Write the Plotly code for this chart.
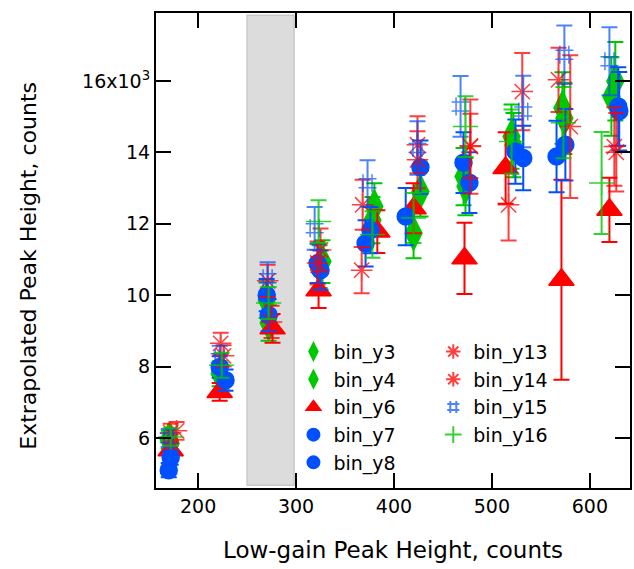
import plotly.graph_objects as go

# ---- data ----
series_names = ["bin_y3", "bin_y4", "bin_y6", "bin_y7", "bin_y8",
                "bin_y13", "bin_y14", "bin_y15", "bin_y16"]

x_y3 = [170, 222, 270, 327, 380, 427, 471, 520, 572, 626]
y_y3 = [5950, 7800, 9860, 10940, 12480, 12900, 13320, 14440, 15240, 15990]
e_y3 = [250, 350, 500, 600, 650, 700, 800, 900, 1000, 1100]

x_y4 = [172, 224, 272, 324, 378, 420, 473, 522, 574, 622]
y_y4 = [5850, 7700, 9220, 10800, 12100, 11730, 13040, 14200, 14950, 15560]
e_y4 = [250, 350, 500, 600, 650, 700, 800, 900, 1000, 1100]

x_y6 = [172, 222, 276, 323, 383, 420, 472, 514, 571, 620]
y_y6 = [5655, 7290, 9070, 10140, 11780, 12430, 11030, 13560, 10430, 12390]
e_y6 = [200, 250, 400, 500, 600, 700, 1000, 1000, 2800, 900]

x_y7 = [172, 222, 270, 322, 376, 412, 471, 524, 575, 629]
y_y7 = [5450, 7990, 10000, 10890, 11820, 12200, 13710, 14020, 14210, 15280]
e_y7 = [200, 300, 450, 550, 650, 800, 850, 900, 1000, 1100]

x_y8 = [170, 228, 272, 325, 371, 427, 477, 532, 566, 630]
y_y8 = [5100, 7620, 9440, 10700, 11450, 13580, 13150, 13840, 13880, 15150]
e_y8 = [200, 300, 450, 550, 650, 750, 850, 900, 1000, 1100]

x_y13 = [172, 223, 271, 325, 368, 424, 478, 531, 568, 625]
y_y13 = [6150, 8650, 10400, 11265, 12530, 14210, 14160, 15700, 16030, 14160]
e_y13 = [250, 300, 450, 600, 700, 800, 1320, 1080, 900, 1100]

x_y14 = [178, 226, 275, 322, 367, 424, 478, 517, 580, 627]
y_y14 = [6200, 8300, 9250, 10900, 10700, 13790, 14180, 12530, 14720, 14000]
e_y14 = [250, 300, 450, 600, 650, 800, 900, 1000, 2000, 1100]

x_y15 = [170, 222, 271, 319, 373, 424, 468, 532, 574, 620]
y_y15 = [6000, 8235, 10470, 11870, 13130, 14120, 15285, 15140, 16730, 16550]
e_y15 = [250, 350, 450, 600, 650, 750, 850, 1000, 820, 950]

x_y16 = [172, 224, 272, 323, 378, 420, 473, 520, 573, 612]
y_y16 = [6030, 8040, 9780, 12060, 11700, 12160, 14720, 14300, 14830, 13140]
e_y16 = [250, 350, 450, 600, 650, 700, 850, 900, 1000, 1430]

x_ticks = [200, 300, 400, 500, 600]
y_ticks = [6000, 8000, 10000, 12000, 14000, 16000]
y_tick_text = ["6", "8", "10", "12", "14", "16x10<sup>3</sup>"]

shade_x = [250, 298]

GREEN = "#00c800"
RED = "#ff0000"
BLUE = "#0050ff"

FONT = "DejaVu Sans"

styles = {
    "bin_y3": (GREEN, "diamond-tall", 24, 1.0, "legend", 1),
    "bin_y4": (GREEN, "diamond-tall", 24, 1.0, "legend", 2),
    "bin_y6": (RED, "triangle-up", 22, 1.0, "legend", 3),
    "bin_y7": (BLUE, "circle", 17, 1.0, "legend", 4),
    "bin_y8": (BLUE, "circle", 17, 1.0, "legend", 5),
    "bin_y13": (RED, "asterisk-open", 18, 0.75, "legend2", 6),
    "bin_y14": (RED, "asterisk-open", 18, 0.75, "legend2", 7),
    "bin_y15": (BLUE, "hash-open", 18, 0.7, "legend2", 8),
    "bin_y16": (GREEN, "cross-thin-open", 18, 0.8, "legend2", 9),
}

data = {
    "bin_y3": (x_y3, y_y3, e_y3),
    "bin_y4": (x_y4, y_y4, e_y4),
    "bin_y6": (x_y6, y_y6, e_y6),
    "bin_y7": (x_y7, y_y7, e_y7),
    "bin_y8": (x_y8, y_y8, e_y8),
    "bin_y13": (x_y13, y_y13, e_y13),
    "bin_y14": (x_y14, y_y14, e_y14),
    "bin_y15": (x_y15, y_y15, e_y15),
    "bin_y16": (x_y16, y_y16, e_y16),
}

fig = go.Figure()

for name in series_names:
    xs, ys, es = data[name]
    color, sym, size, op, leg, rank = styles[name]
    fig.add_trace(go.Scatter(
        x=xs, y=ys, mode="markers", name=name,
        marker=dict(symbol=sym, size=size, color=color,
                    line=dict(color=color, width=1.5)),
        opacity=op,
        error_y=dict(type="data", array=es, visible=True,
                     color=color, thickness=2, width=8),
        legend=leg, legendrank=rank,
    ))

fig.add_shape(type="rect", xref="x", yref="y",
              x0=shade_x[0], x1=shade_x[1], y0=4680, y1=17840,
              fillcolor="#dcdcdc", line=dict(color="#c8c8c8", width=1.5),
              layer="below")

fig.add_annotation(text="Extrapolated Peak Height, counts",
                   xref="paper", yref="paper", x=-0.269, y=0.469,
                   xanchor="center", yanchor="middle", textangle=-90,
                   showarrow=False, font=dict(family=FONT, size=22, color="black"))

axis_common = dict(
    showline=True, linecolor="black", linewidth=2, mirror="ticks",
    ticks="inside", ticklen=15, tickwidth=2, tickcolor="black",
    showgrid=False, zeroline=False,
    tickfont=dict(family=FONT, size=19, color="black"),
)

fig.update_layout(
    width=634, height=569,
    margin=dict(l=156, r=2, t=13, b=81),
    plot_bgcolor="white", paper_bgcolor="white",
    font=dict(family=FONT, size=19, color="black"),
    xaxis=dict(range=[157, 641], tickvals=x_ticks,
               title=dict(text="Low-gain Peak Height, counts",
                          font=dict(family=FONT, size=23), standoff=26),
               **axis_common),
    yaxis=dict(range=[4600, 17900], tickvals=y_ticks, ticktext=y_tick_text,
               **axis_common),
    legend=dict(x=0.29, y=0.327, xanchor="left", yanchor="top",
                bgcolor="rgba(0,0,0,0)", font=dict(family=FONT, size=19),
                tracegroupgap=0, itemsizing="constant"),
    legend2=dict(x=0.585, y=0.327, xanchor="left", yanchor="top",
                 bgcolor="rgba(0,0,0,0)", font=dict(family=FONT, size=19),
                 tracegroupgap=0, itemsizing="constant"),
    showlegend=True,
)

fig.write_html("out.html")
